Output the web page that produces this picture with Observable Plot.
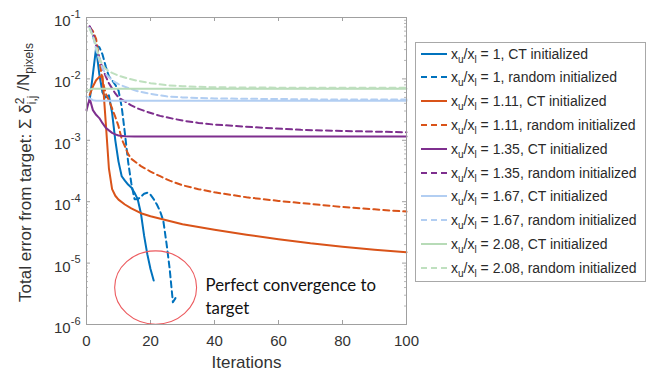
<!DOCTYPE html>
<html><head><meta charset="utf-8">
<script src="https://cdn.jsdelivr.net/npm/d3@7"></script>
<script src="https://cdn.jsdelivr.net/npm/@observablehq/plot@0.6"></script>
<style>
body{margin:0;background:#fff;}
#wrap{position:relative;width:658px;height:376px;font-family:"Liberation Sans",Arial,sans-serif;}
#legend{position:absolute;left:415px;top:42px;width:229px;height:238px;border:1px solid #a8a8a8;background:#fff;}
.row{position:absolute;left:0;height:20px;display:flex;align-items:center;font-size:14px;color:#2a2a2a;white-space:nowrap}
.row svg{margin-left:5px;margin-right:4px;flex:none}
.row sub{font-size:10px;vertical-align:-4px;line-height:0}
</style></head>
<body><div id="wrap"><div id="chart"></div><div id="legend"></div></div>
<script>
// ---- axis ticks ----
const xTicks = [0, 20, 40, 60, 80, 100];
const yTicks = [1e-6, 1e-5, 1e-4, 1e-3, 1e-2, 1e-1];

// ---- series data (iteration, total error) ----
const blueCtIter = [1,2,3,4,5,6,7,8,9,10,11,12,13,14,15,16,17,18,19,20,21];
const blueCtErr  = [4.5e-3,1.2e-2,3.2e-2,1.2e-2,6e-3,5e-3,5.4e-3,2.8e-3,1.0e-3,4.5e-4,2.6e-4,2.2e-4,1.9e-4,1.7e-4,1.4e-4,1.1e-4,6.5e-5,2.8e-5,1.4e-5,8e-6,5.2e-6];

const blueRandIter = [1,2,3,4,5,6,7,8,9,10,11,12,13,14,15,16,17,18,19,20,21,22,23,24,25,26,27,28];
const blueRandErr  = [0.07,0.05,0.035,0.033,0.025,0.016,0.011,0.0095,0.008,0.0065,0.0035,1.3e-3,4.5e-4,2e-4,1.1e-4,1.1e-4,1.2e-4,1.35e-4,1.4e-4,1.3e-4,1.1e-4,9e-5,7e-5,4.9e-5,2.1e-5,8e-6,2.3e-6,2.8e-6];

const orangeCtIter = [1,2,3,4,5,6,7,8,9,10,12,14,17,20,25,30,40,50,60,70,80,90,100];
const orangeCtErr  = [5.5e-3,7.5e-3,9.5e-3,1.08e-2,1.1e-2,2.0e-3,3.5e-4,1.6e-4,1.25e-4,1.08e-4,9e-5,7.8e-5,6.5e-5,5.8e-5,5e-5,4.3e-5,3.5e-5,2.9e-5,2.45e-5,2.1e-5,1.85e-5,1.65e-5,1.5e-5];

const orangeRandIter = [1,2,3,4,5,6,7,8,9,10,11,12,13,14,17,20,23,26,30,35,40,50,60,70,80,90,100];
const orangeRandErr  = [0.07,0.06,0.045,0.02,0.0095,0.0058,0.0045,0.0033,0.0024,0.0017,1.05e-3,8e-4,6e-4,5e-4,3.8e-4,3.1e-4,2.6e-4,2.2e-4,1.85e-4,1.6e-4,1.42e-4,1.18e-4,1.03e-4,9.2e-5,8.2e-5,7.5e-5,6.9e-5];

const purpleCtIter = [0,1,2,3,4,5,6,7,8,9,10,12,15,100];
const purpleCtErr  = [3.1e-3,4.8e-3,3.1e-3,2.6e-3,2.3e-3,1.9e-3,1.6e-3,1.45e-3,1.32e-3,1.25e-3,1.2e-3,1.16e-3,1.15e-3,1.15e-3];

const purpleRandIter = [1,2,3,4,5,6,7,8,9,10,12,14,16,19,23,27,31,35,40,46,55,67,80,100];
const purpleRandErr  = [0.072,0.055,0.035,0.022,0.015,0.011,0.0085,0.007,0.0058,0.005,4.3e-3,3.7e-3,3.3e-3,2.9e-3,2.5e-3,2.25e-3,2.05e-3,1.92e-3,1.8e-3,1.72e-3,1.6e-3,1.48e-3,1.42e-3,1.35e-3];

const lblueCtIter = [0,1,2,3,100];
const lblueCtErr  = [5.2e-3,4.8e-3,4.5e-3,4.4e-3,4.4e-3];

const lblueRandIter = [1,2,3,4,5,6,8,10,13,16,20,25,30,40,60,80,100];
const lblueRandErr  = [0.068,0.05,0.03,0.02,0.015,0.012,0.0095,0.0082,0.0071,0.0063,0.0057,0.0052,0.005,0.0048,0.0047,0.0046,0.0046];

const greenCtIter = [0,1,2,100];
const greenCtErr  = [6.3e-3,6.7e-3,6.9e-3,6.9e-3];

const greenRandIter = [1,2,3,4,5,6,8,10,13,16,20,25,30,40,60,100];
const greenRandErr  = [0.065,0.05,0.035,0.022,0.017,0.0145,0.0125,0.0113,0.0101,0.0093,0.0085,0.0079,0.0076,0.0073,0.0072,0.0072];

const ratios = ["1","1","1.11","1.11","1.35","1.35","1.67","1.67","2.08","2.08"];
const inits  = ["CT","random","CT","random","CT","random","CT","random","CT","random"];
const iters  = [blueCtIter,blueRandIter,orangeCtIter,orangeRandIter,purpleCtIter,purpleRandIter,lblueCtIter,lblueRandIter,greenCtIter,greenRandIter];
const errs   = [blueCtErr,blueRandErr,orangeCtErr,orangeRandErr,purpleCtErr,purpleRandErr,lblueCtErr,lblueRandErr,greenCtErr,greenRandErr];

// annotation
const annotText = "Perfect convergence to\ntarget";
const annotIter = 37.2, annotErr = 3.0e-6;
const circleIter = 21.6, circleErr = 4.0e-6;

// ---- styles ----
const colors = ["#0072BD","#0072BD","#D95319","#D95319","#7E2F8E","#7E2F8E","#b2cef2","#b2cef2","#b7dbb7","#bfe0bf"];
const dashes = [null,"6,4",null,"6,4",null,"6,4",null,"6,4",null,"6,4"];

const W = 658, H = 376, mL = 86, mR = 252, mT = 17, mB = 52;
const pw = W - mL - mR, ph = H - mT - mB;

const minor = [];
for (let e = -6; e < -1; e++) for (let k = 2; k <= 9; k++) minor.push(k * Math.pow(10, e));

const ellipse = {
  draw(ctx, size) {
    const r = Math.sqrt(size / Math.PI), rx = r * 1.05, ry = r * 0.94, k = 0.5523;
    ctx.moveTo(rx, 0);
    ctx.bezierCurveTo(rx, ry * k, rx * k, ry, 0, ry);
    ctx.bezierCurveTo(-rx * k, ry, -rx, ry * k, -rx, 0);
    ctx.bezierCurveTo(-rx, -ry * k, -rx * k, -ry, 0, -ry);
    ctx.bezierCurveTo(rx * k, -ry, rx, -ry * k, rx, 0);
    ctx.closePath();
  }
};

const marks = [
  Plot.ruleX(xTicks, {stroke: "#a0a0a0", insetTop: ph - 4}),
  Plot.ruleX(xTicks, {stroke: "#a0a0a0", insetBottom: ph - 4}),
  Plot.ruleY(yTicks, {stroke: "#a0a0a0", insetRight: pw - 4}),
  Plot.ruleY(yTicks, {stroke: "#a0a0a0", insetLeft: pw - 4}),
  Plot.ruleY(minor, {stroke: "#b8b8b8", insetRight: pw - 2}),
  Plot.ruleY(minor, {stroke: "#b8b8b8", insetLeft: pw - 2}),
];
iters.forEach((it, i) => {
  const rows = it.map((x, j) => ({x, y: errs[i][j]}));
  const o = {x: "x", y: "y", stroke: colors[i], strokeWidth: 2};
  if (dashes[i]) o.strokeDasharray = dashes[i];
  marks.push(Plot.line(rows, o));
});
marks.push(
  Plot.dot([{x: circleIter, y: circleErr}], {x: "x", y: "y", r: 39, symbol: ellipse, stroke: "#ec5a5e", strokeWidth: 1.1, fill: "none"}),
  Plot.text([{x: annotIter, y: annotErr}], {x: "x", y: "y", text: () => annotText, textAnchor: "start", lineAnchor: "middle", lineHeight: 1.4, fontSize: 16.8, fontFamily: "Lato, 'Open Sans', sans-serif", fill: "#111"}),
  Plot.axisX({ticks: xTicks, tickSize: 0, tickPadding: 11, fontSize: 15, label: null}),
  Plot.axisY({ticks: yTicks, tickSize: 0, tickPadding: 6, fontSize: 15, label: null, tickFormat: d => String(Math.round(Math.log10(d)))}),
  Plot.text(["Iterations"], {frameAnchor: "bottom", dy: 38, text: d => d, fontSize: 17, lineAnchor: "middle"}),
  Plot.frame({stroke: "#a0a0a0"})
);

const chart = Plot.plot({
  width: W, height: H,
  marginLeft: mL, marginRight: mR, marginTop: mT, marginBottom: mB,
  x: {domain: [0, 100]},
  y: {type: "log", domain: [1e-6, 1e-1]},
  style: {fontFamily: "'Liberation Sans', Arial, sans-serif", color: "#333", background: "white"},
  marks
});
document.getElementById("chart").appendChild(chart);

// superscript exponents for y tick labels
const svg = d3.select(chart);
svg.selectAll('g[aria-label="y-axis tick label"] text').each(function () {
  const t = d3.select(this);
  const exp = t.text();
  t.text("");
  t.append("tspan").attr("dy", "0.25em").attr("font-size", 15).text("10");
  t.append("tspan").attr("dy", "-0.75em").attr("font-size", 11).text(exp);
});

// y-axis label
const yl = svg.append("text")
  .attr("transform", `translate(31,${mT + ph / 2 + 2}) rotate(-90)`)
  .attr("text-anchor", "middle")
  .attr("font-size", 17)
  .attr("fill", "#333");
yl.append("tspan").text("Total error from target: \u03A3 \u03B4");
yl.append("tspan").attr("dy", "-0.55em").attr("font-size", 12).text("2");
yl.append("tspan").attr("dx", -6.5).attr("dy", "1.0em").attr("font-size", 12).text("i,j");
yl.append("tspan").attr("dy", "-0.45em").text(" /N");
yl.append("tspan").attr("dy", "0.35em").attr("font-size", 12).text("pixels");

// legend
const legend = document.getElementById("legend");
iters.forEach((_, i) => {
  const row = document.createElement("div");
  row.className = "row";
  row.style.top = (10.5 + 23.8 * i - 10) + "px";
  const dash = dashes[i] ? `stroke-dasharray="${dashes[i]}"` : "";
  row.innerHTML = `<svg width="26" height="4"><line x1="0" x2="26" y1="2" y2="2" stroke="${colors[i]}" stroke-width="2" ${dash}/></svg>` +
    `<span>x<sub>u</sub>/x<sub>l</sub> = ${ratios[i]}, ${inits[i]} initialized</span>`;
  legend.appendChild(row);
});
</script>
</body></html>
